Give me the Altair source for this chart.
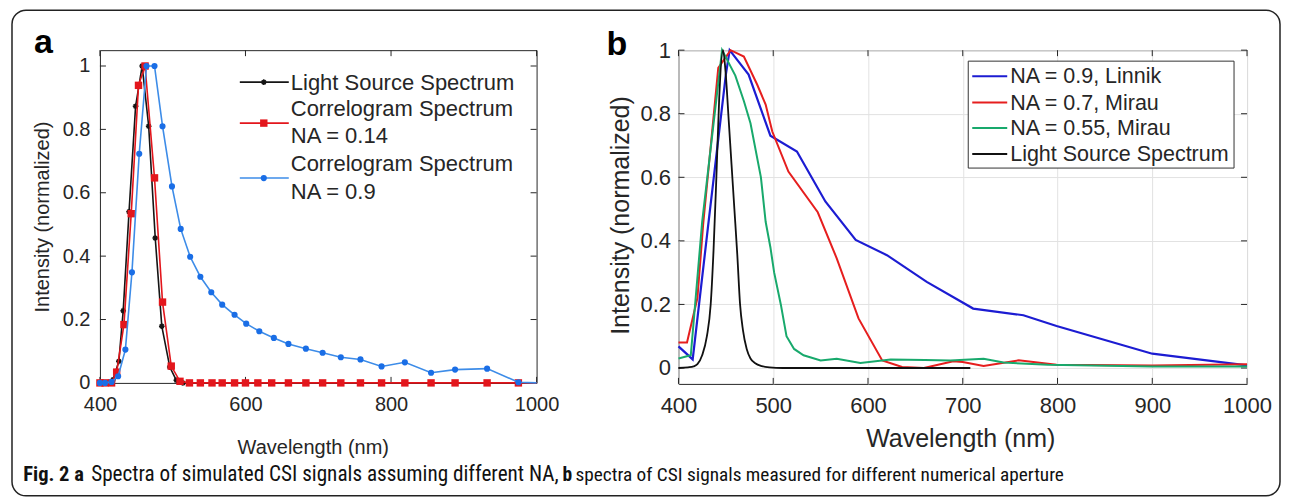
import altair as alt
import pandas as pd

# ---------------- Panel a data (simulated spectra) ----------------
a_ls_x = [400, 409, 418, 426, 432, 440, 449, 458, 467, 476, 485, 496, 505, 514, 1000]
a_ls_y = [0, 0, 0.01, 0.068, 0.228, 0.54, 0.873, 1.0, 0.81, 0.457, 0.179, 0.05, 0.008, 0.0, 0.0]

a_c014_x = [400, 407, 416, 423, 433, 443, 453, 462, 475, 486, 498, 510,
            523, 538, 554, 568, 585, 600, 617, 636, 659, 683, 706, 731, 758,
            787, 819, 855, 888, 932, 975, 1000]
a_c014_y = [0, 0, 0, 0.034, 0.184, 0.534, 0.939, 1.0, 0.647, 0.255, 0.053, 0.005,
            0, 0, 0, 0, 0, 0, 0, 0, 0, 0, 0, 0, 0, 0, 0, 0, 0, 0, 0, 0]

a_c09_x = [400, 407, 416, 425, 435, 444, 454, 464, 475, 486, 499, 511, 524, 538,
           553, 568, 585, 601, 619, 639, 659, 683, 706, 731, 758, 787, 819, 855,
           888, 932, 975, 1000]
a_c09_y = [0, 0, 0.003, 0.021, 0.105, 0.349, 0.723, 1.0, 1.0, 0.81, 0.62, 0.486,
           0.398, 0.335, 0.286, 0.247, 0.215, 0.187, 0.163, 0.142, 0.123, 0.108,
           0.095, 0.081, 0.074, 0.052, 0.065, 0.032, 0.042, 0.045, 0.002, 0.0]

a_xticks = [400, 600, 800, 1000]
a_yticks = [0, 0.2, 0.4, 0.6, 0.8, 1.0]
a_legend = ["Light Source Spectrum", "Correlogram Spectrum", "NA = 0.14",
            "Correlogram Spectrum", "NA = 0.9"]

# ---------------- Panel b data (measured spectra) ----------------
b_linnik_x = [400, 415, 431, 450, 454, 474, 497, 525, 555, 587, 620, 662, 711, 764, 799, 900, 1000]
b_linnik_y = [0.068, 0.027, 0.44, 0.923, 1.0, 0.923, 0.731, 0.681, 0.524, 0.403, 0.355,
              0.271, 0.187, 0.166, 0.132, 0.045, 0.008]

b_m07_x = [400, 409, 420, 426, 442, 455, 469, 483, 492, 499, 516, 547, 567, 590, 615,
           636, 659, 690, 700, 722, 759, 799, 900, 1000]
b_m07_y = [0.08, 0.08, 0.22, 0.45, 0.944, 1.0, 0.98, 0.892, 0.829, 0.744, 0.618, 0.49,
           0.345, 0.156, 0.024, 0.003, 0.0, 0.021, 0.019, 0.006, 0.024, 0.01, 0.008, 0.012]

b_m055_x = [400, 413, 425, 446, 460, 469, 476, 487, 492, 497, 501, 508, 514, 522, 532,
            550, 567, 592, 624, 660, 687, 722, 743, 790, 900, 1000]
b_m055_y = [0.03, 0.04, 0.46, 1.0, 0.92, 0.84, 0.77, 0.6, 0.46, 0.38, 0.3, 0.2, 0.1,
            0.06, 0.04, 0.024, 0.029, 0.016, 0.027, 0.025, 0.024, 0.029, 0.017, 0.01,
            0.005, 0.005]

b_ls_x = [400, 410, 416, 420, 425, 430, 434, 437, 440, 443, 447, 450, 453, 456, 459,
          462, 465, 468, 472, 476, 481, 488, 496, 510, 708]
b_ls_y = [0.0, 0.002, 0.005, 0.012, 0.04, 0.1, 0.2, 0.37, 0.6, 0.85, 1.0, 0.92, 0.78,
          0.64, 0.5, 0.36, 0.2, 0.12, 0.06, 0.03, 0.015, 0.006, 0.002, 0.0, 0.0]

b_xticks = [400, 500, 600, 700, 800, 900, 1000]
b_yticks = [0, 0.2, 0.4, 0.6, 0.8, 1.0]
b_legend = ["NA = 0.9, Linnik", "NA = 0.7, Mirau", "NA = 0.55, Mirau", "Light Source Spectrum"]

caption_parts = [("Fig. 2 a", "bold"),
                 ("Spectra of simulated CSI signals assuming different NA,", "normal"),
                 ("b", "bold"),
                 ("spectra of CSI signals measured for different numerical aperture", "normal")]

# ---------------- styling ----------------
FONT = "Arial, Liberation Sans, Helvetica, sans-serif"
CAP_FONT = "Liberation Sans Narrow, Roboto Condensed, DejaVu Sans Condensed, Roboto"
TXT = "#262626"
A_W, A_H = 437, 333
B_W, B_H = 569, 334

A_BLACK, A_RED, A_BLUE_L, A_BLUE_M = "#151515", "#e3161c", "#3d8ce8", "#1a6ee6"
B_BLUE, B_RED, B_GREEN, B_BLACK = "#1c1cd2", "#e61e1e", "#18a96c", "#111111"
STAR = "M-1,0L1,0M0,-1L0,1M-0.7,-0.7L0.7,0.7M-0.7,0.7L0.7,-0.7"

DUMMY = pd.DataFrame({"k": [0]})


def df(xs, ys):
    return pd.DataFrame({"x": xs, "y": ys})


def vtext(txt, x, y, size, weight="normal", font=FONT, align="left", baseline="middle", color=TXT):
    return alt.Chart(DUMMY).mark_text(text=txt, fontSize=size, fontWeight=weight, font=font,
                                      align=align, baseline=baseline, color=color).encode(
        x=alt.value(x), y=alt.value(y))


def vrule(x, x2, y, y2, color, width):
    return alt.Chart(DUMMY).mark_rule(color=color, strokeWidth=width).encode(
        x=alt.value(x), x2=alt.value(x2), y=alt.value(y), y2=alt.value(y2))


# ---------------- panel a ----------------
XA = alt.X("x:Q", scale=alt.Scale(domain=[400, 1000], nice=False, zero=False),
           axis=alt.Axis(values=a_xticks, format="d", ticks=False, domain=False, grid=False,
                         labelFont=FONT, labelFontSize=20, labelColor=TXT, labelPadding=12,
                         labelFlush=False, labelOverlap=False,
                         title="Wavelength  (nm)", titleFont=FONT, titleFontSize=20,
                         titleFontWeight="normal", titleColor=TXT, titleX=213, titleY=65,
                         titleBaseline="middle"))
YA = alt.Y("y:Q", scale=alt.Scale(domain=[0, 1.05], nice=False, zero=False),
           axis=alt.Axis(values=a_yticks, format=".1~f", ticks=False, domain=False, grid=False,
                         labelFont=FONT, labelFontSize=20, labelColor=TXT, labelPadding=10,
                         labelFlush=False, labelOverlap=False,
                         title="Intensity (normalized)", titleFont=FONT, titleFontSize=20,
                         titleFontWeight="normal", titleColor=TXT, titleX=-57, titleY=A_H / 2,
                         titleBaseline="middle"))

a_layers = []
# ticks (inward, all four sides)
axt = pd.DataFrame({"x": a_xticks})
ayt = pd.DataFrame({"y": a_yticks})
a_layers.append(alt.Chart(axt).mark_rule(color=TXT, strokeWidth=1).encode(
    x=XA, y=alt.value(A_H), y2=alt.value(A_H - 6)))
a_layers.append(alt.Chart(axt).mark_rule(color=TXT, strokeWidth=1).encode(
    x=XA, y=alt.value(0), y2=alt.value(6)))
a_layers.append(alt.Chart(ayt).mark_rule(color=TXT, strokeWidth=1).encode(
    y=YA, x=alt.value(0), x2=alt.value(6)))
a_layers.append(alt.Chart(ayt).mark_rule(color=TXT, strokeWidth=1).encode(
    y=YA, x=alt.value(A_W), x2=alt.value(A_W - 6)))

ls_a = df(a_ls_x, a_ls_y)
c014 = df(a_c014_x, a_c014_y)
c09 = df(a_c09_x, a_c09_y)
a_layers.append(alt.Chart(ls_a).mark_line(color=A_BLACK, strokeWidth=1.6).encode(x=XA, y=YA))
a_layers.append(alt.Chart(ls_a).transform_filter("datum.x < 990").mark_point(
    shape=STAR, filled=False, color=A_BLACK, strokeWidth=1.5, size=32, opacity=1).encode(x=XA, y=YA))
a_layers.append(alt.Chart(c014).mark_line(color=A_RED, strokeWidth=1.6).encode(x=XA, y=YA))
a_layers.append(alt.Chart(c014).transform_filter("datum.x < 990").mark_square(
    color=A_RED, size=55, opacity=1).encode(x=XA, y=YA))
a_layers.append(alt.Chart(c09).mark_line(color=A_BLUE_L, strokeWidth=1.6).encode(x=XA, y=YA))
a_layers.append(alt.Chart(c09).transform_filter("datum.x < 990").mark_circle(
    color=A_BLUE_M, size=38, opacity=1).encode(x=XA, y=YA))

# legend (panel a)
a_layers.append(vrule(140, 189, 32, 32, A_BLACK, 1.6))
a_layers.append(alt.Chart(DUMMY).mark_point(shape=STAR, filled=False, color=A_BLACK, strokeWidth=1.5,
                                            size=32, opacity=1).encode(x=alt.value(164), y=alt.value(32)))
a_layers.append(vrule(140, 189, 73, 73, A_RED, 1.6))
a_layers.append(alt.Chart(DUMMY).mark_square(color=A_RED, size=55, opacity=1).encode(
    x=alt.value(164), y=alt.value(73)))
a_layers.append(vrule(140, 189, 128, 128, A_BLUE_L, 1.6))
a_layers.append(alt.Chart(DUMMY).mark_circle(color=A_BLUE_M, size=38, opacity=1).encode(
    x=alt.value(164), y=alt.value(128)))
for txt, yy in zip(a_legend, [32.5, 58.5, 86, 114, 142]):
    a_layers.append(vtext(txt, 191, yy, 22))

# panel letter, frame, caption
a_layers.append(vtext("a", -66, 3, 34, weight="bold", baseline="alphabetic", color="#000"))
a_layers.append(alt.Chart(DUMMY).mark_rect(cornerRadius=14, fillOpacity=0, stroke="#222",
                                           strokeWidth=1.5).encode(
    x=alt.value(-88), x2=alt.value(1181), y=alt.value(-40), y2=alt.value(446)))
for (txt, w), xx, sz in zip(caption_parts, [-76.75, -8.75, 463, 476], [20.5, 21.2, 19.5, 19.3]):
    a_layers.append(vtext(txt, xx, 431, sz, weight=w, font=CAP_FONT, baseline="alphabetic",
                          color="#111"))

panel_a = alt.layer(*a_layers).properties(width=A_W, height=A_H)

# ---------------- panel b ----------------
XB = alt.X("x:Q", scale=alt.Scale(domain=[400, 1000], nice=False, zero=False),
           axis=alt.Axis(values=b_xticks, format="d", ticks=False, domain=False, grid=True,
                         gridColor="#e2e2e2", gridWidth=1,
                         labelFont=FONT, labelFontSize=22, labelColor=TXT, labelPadding=12,
                         labelFlush=False, labelOverlap=False,
                         title="Wavelength (nm)", titleFont=FONT, titleFontSize=25,
                         titleFontWeight="normal", titleColor=TXT, titleX=282, titleY=55,
                         titleBaseline="middle"))
YB = alt.Y("y:Q", scale=alt.Scale(domain=[-0.05, 1.0], nice=False, zero=False),
           axis=alt.Axis(values=b_yticks, format=".1~f", ticks=False, domain=False, grid=True,
                         gridColor="#e2e2e2", gridWidth=1,
                         labelFont=FONT, labelFontSize=22, labelColor=TXT, labelPadding=8,
                         labelFlush=False, labelOverlap=False,
                         title="Intensity (normalized)", titleFont=FONT, titleFontSize=25,
                         titleFontWeight="normal", titleColor=TXT, titleX=-58, titleY=165,
                         titleBaseline="middle"))

b_layers = []
bxt = pd.DataFrame({"x": b_xticks})
byt = pd.DataFrame({"y": b_yticks})
b_layers.append(alt.Chart(bxt).mark_rule(color=TXT, strokeWidth=1).encode(
    x=XB, y=alt.value(B_H), y2=alt.value(B_H - 6)))
b_layers.append(alt.Chart(bxt).mark_rule(color=TXT, strokeWidth=1).encode(
    x=XB, y=alt.value(0), y2=alt.value(6)))
b_layers.append(alt.Chart(byt).mark_rule(color=TXT, strokeWidth=1).encode(
    y=YB, x=alt.value(0), x2=alt.value(6)))
b_layers.append(alt.Chart(byt).mark_rule(color=TXT, strokeWidth=1).encode(
    y=YB, x=alt.value(B_W), x2=alt.value(B_W - 6)))

b_layers.append(alt.Chart(df(b_linnik_x, b_linnik_y)).mark_line(color=B_BLUE, strokeWidth=2.2).encode(x=XB, y=YB))
b_layers.append(alt.Chart(df(b_m07_x, b_m07_y)).mark_line(color=B_RED, strokeWidth=2.0).encode(x=XB, y=YB))
b_layers.append(alt.Chart(df(b_m055_x, b_m055_y)).mark_line(color=B_GREEN, strokeWidth=2.0).encode(x=XB, y=YB))
b_layers.append(alt.Chart(df(b_ls_x, b_ls_y)).mark_line(color=B_BLACK, strokeWidth=1.8,
                                                        interpolate="monotone").encode(x=XB, y=YB))

# legend (panel b)
b_layers.append(alt.Chart(DUMMY).mark_rect(fill="white", stroke="#333", strokeWidth=1).encode(
    x=alt.value(290), x2=alt.value(556), y=alt.value(11), y2=alt.value(118)))
for txt, col, yy in zip(b_legend, [B_BLUE, B_RED, B_GREEN, B_BLACK], [26, 52.5, 78, 104]):
    b_layers.append(vrule(294, 329, yy, yy, col, 2))
    b_layers.append(vtext(txt, 332, yy + 1, 21.5))

b_layers.append(vtext("b", -72, 4.5, 34, weight="bold", baseline="alphabetic", color="#000"))

panel_b = alt.layer(*b_layers).properties(width=B_W, height=B_H)

chart = alt.hconcat(panel_a, panel_b, spacing=142, bounds="flush").configure_view(
    stroke="#262626", strokeWidth=1, fill=None
).properties(padding={"left": 2, "top": 0, "right": 0, "bottom": 0}, background="white")

chart.save("out.html", embed_options={"renderer": "svg", "actions": False})
